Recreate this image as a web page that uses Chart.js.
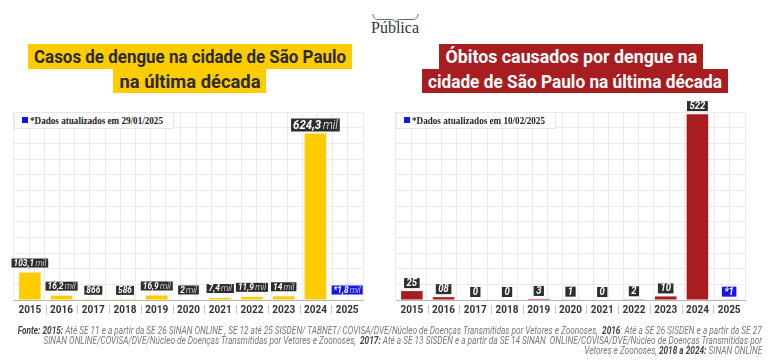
<!DOCTYPE html>
<html lang="pt-BR">
<head>
<meta charset="utf-8">
<script src="https://cdn.jsdelivr.net/npm/chart.js@4.4.1/dist/chart.umd.min.js"></script>
<style>
  html, body { margin: 0; padding: 0; background: #fff; }
  body { width: 768px; height: 363px; position: relative; overflow: hidden; font-family: Roboto, sans-serif; }
  .abs { position: absolute; }
  .grafico { position: absolute; top: 96px; width: 384px; height: 230px; }
  .titulo { position: absolute; display: flex; justify-content: center; align-items: center; font: bold 19px Roboto, sans-serif; white-space: nowrap; }
  .titulo.amarelo { background: #ffcc00; color: #2b2b2b; }
  .titulo.vermelho { background: #a81d20; color: #fff; }
  .fit { display: inline-block; flex-shrink: 0; white-space: nowrap; transform-origin: center center; }
  .legenda { position: absolute; top: 112px; width: 158px; height: 15px; background: #fff; border: 1px solid #e6e6e6; }
  .legenda i { position: absolute; left: 7px; top: 4px; width: 6px; height: 6px; background: #1414ee; }
  .legenda span { position: absolute; left: 15px; top: 0; font: bold 11px 'Liberation Serif', serif; color: #222; line-height: 15px; transform-origin: left center; white-space: nowrap; }
  .fonte { position: absolute; right: 6px; font: italic 10px Roboto, sans-serif; color: #777; line-height: 10px; white-space: nowrap; transform-origin: right center; }
  .fonte b { color: #444; }
</style>
</head>
<body>

<svg class="abs" style="left:372px;top:14px" width="47" height="9">
  <path d="M1 0 C1 4 3 5.5 7 5.5 L19 5.5 C22 5.5 23 6.5 23.5 8.5 C24 6.5 25 5.5 28 5.5 L40 5.5 C44 5.5 46 4 46 0" fill="none" stroke="#555" stroke-width="0.9"/>
</svg>
<div class="abs" style="left:345px;top:19px;width:100px;text-align:center;font:16px 'Liberation Serif',serif;color:#333">Pública</div>

<div class="titulo amarelo" style="left:28px;top:44px;width:324px;height:25px"><span class="fit" data-w="312">Casos de dengue na cidade de São Paulo</span></div>
<div class="titulo amarelo" style="left:113px;top:69px;width:153px;height:24px"><span class="fit" data-w="141">na última década</span></div>

<div class="titulo vermelho" style="left:439px;top:44px;width:264px;height:25px"><span class="fit" data-w="252">Óbitos causados por dengue na</span></div>
<div class="titulo vermelho" style="left:422px;top:69px;width:306px;height:24px"><span class="fit" data-w="294">cidade de São Paulo na última década</span></div>

<div class="grafico" style="left:0"><canvas id="casos" width="384" height="230"></canvas></div>
<div class="grafico" style="left:384px"><canvas id="obitos" width="384" height="230"></canvas></div>

<div class="legenda" style="left:14px"><i></i><span data-w="133">*Dados atualizados em 29/01/2025</span></div>
<div class="legenda" style="left:396px"><i></i><span data-w="133">*Dados atualizados em 10/02/2025</span></div>

<div class="fonte" style="top:326px" id="f1"><b>Fonte: 2015:</b> Até SE 11 e a partir da SE 26 SINAN ONLINE , SE 12 até 25 SISDEN/ TABNET/ COVISA/DVE/Núcleo de Doenças Transmitidas por Vetores e Zoonoses,&nbsp; <b>2016</b>: Até a SE 26 SISDEN e a partir da SE 27</div>
<div class="fonte" style="top:336px" id="f2">SINAN ONLINE/COVISA/DVE/Núcleo de Doenças Transmitidas por Vetores e Zoonoses,&nbsp; <b>2017:</b> Até a SE 13 SISDEN e a partir da SE 14 SINAN&nbsp; ONLINE/COVISA/DVE/Núcleo de Doenças Transmitidas por</div>
<div class="fonte" style="top:346px" id="f3">Vetores e Zoonoses, <b>2018 a 2024:</b> SINAN ONLINE</div>

<script>
const anos = ['2015', '2016', '2017', '2018', '2019', '2020', '2021', '2022', '2023', '2024', '2025']

// casos em milhares
const casosMil = [103.1, 16.2, 0.866, 0.586, 16.9, 2, 7.4, 11.9, 14, 624.3, 1.8]

const obitos = [25, 8, 0, 0, 3, 1, 0, 2, 10, 522, 1]
const obitosRotulos = ['25', '08', '0', '0', '3', '1', '0', '2', '10', '522', '*1']

// ajusta largura dos textos (fonte condensada nao disponivel)
document.querySelectorAll('[data-w]').forEach(el => {
  let w = el.getBoundingClientRect().width
  el.style.transform = 'scaleX(' + (el.dataset.w / w) + ')'
})
let f1 = document.getElementById('f1')
let escalaFonte = 744 / f1.getBoundingClientRect().width
;['f1', 'f2', 'f3'].forEach(id => {
  document.getElementById(id).style.transform = 'scaleX(' + escalaFonte + ')'
})

// tracinhos entre os anos, abaixo do eixo
const separadores = {
  id: 'separadores',
  afterDraw (chart) {
    let ctx = chart.ctx
    let x = chart.scales.x
    let base = chart.chartArea.bottom
    ctx.save()
    ctx.strokeStyle = '#c8c8c8'
    ctx.lineWidth = 1
    for (let i = 1; i < anos.length; i++) {
      let px = Math.round((x.getPixelForTick(i - 1) + x.getPixelForTick(i)) / 2) + 0.5
      ctx.beginPath()
      ctx.moveTo(px, base + 5)
      ctx.lineTo(px, base + 14)
      ctx.stroke()
    }
    ctx.restore()
  }
}

const rotulosBarras = {
  id: 'rotulosBarras',
  afterDatasetsDraw (chart, args, o) {
    let ctx = chart.ctx
    let meta = chart.getDatasetMeta(0)
    let ultimo = meta.data.length - 1

    meta.data.forEach((bar, i) => {
      let [txt, sufixo] = o.texto(i)
      let grande = i === o.grande
      let size = grande ? o.tamGrande : o.tam
      let negrito = `italic bold ${size}px Roboto, sans-serif`
      let leve = `italic 300 ${size}px Roboto, sans-serif`

      ctx.save()
      ctx.font = negrito
      let w1 = ctx.measureText(txt).width
      let w2 = 0
      if (sufixo) {
        ctx.font = leve
        w2 = ctx.measureText(sufixo).width + size * 0.15
      }
      let w = (w1 + w2) * o.escala + o.padX * 2
      let h = Math.round(size * 0.98)
      let left = bar.x - w / 2
      let bottom = bar.y - (grande ? o.folgaGrande : o.folga)

      ctx.fillStyle = i === ultimo ? o.corDestaque : o.corCaixa
      ctx.fillRect(left, bottom - h, w, h)

      ctx.translate(left + o.padX, bottom - h / 2 + 0.5)
      ctx.scale(o.escala, 1)
      ctx.fillStyle = '#fff'
      ctx.textBaseline = 'middle'
      ctx.font = negrito
      ctx.fillText(txt, 0, 0)
      if (sufixo) {
        ctx.font = leve
        ctx.fillText(sufixo, w1 + size * 0.15, 0)
      }
      ctx.restore()
    })
  }
}

let criaGrafico = (id, valores, cor, maxY, passoY, padding, rotulos) => {
  return new Chart(document.getElementById(id), {
    type: 'bar',
    data: {
      labels: anos,
      datasets: [
        {
          data: valores,
          backgroundColor: cor,
          borderWidth: 0,
          barPercentage: 0.68,
          categoryPercentage: 1,
          xAxisID: 'x',
          yAxisID: 'y'
        }
      ]
    },
    plugins: [rotulosBarras, separadores],
    options: {
      responsive: false,
      animation: false,
      layout: { padding: padding },
      plugins: {
        legend: { display: false },
        tooltip: { enabled: false },
        rotulosBarras: rotulos
      },
      scales: {
        x: {
          type: 'category',
          offset: true,
          grid: { drawOnChartArea: false, drawTicks: false },
          border: { color: '#b5b5b5', width: 1 },
          ticks: {
            padding: 4,
            color: '#333',
            autoSkip: false,
            maxRotation: 0,
            font: { family: 'Roboto', size: 10, weight: 'bold' }
          }
        },
        xg: {
          type: 'linear',
          position: 'top',
          min: 0,
          max: 22,
          ticks: { display: false, stepSize: 1 },
          grid: { color: '#ebebeb', drawTicks: false },
          border: { display: false }
        },
        y: {
          min: 0,
          max: maxY,
          ticks: { display: false, stepSize: passoY },
          grid: { color: '#ebebeb', drawTicks: false },
          border: { display: false }
        }
      }
    }
  })
}

criaGrafico('casos', casosMil, '#ffcc00', 705, 58.75,
  { top: 16, bottom: 6, left: 14, right: 21 },
  {
    texto (i) {
      let v = casosMil[i]
      let pre = i === anos.length - 1 ? '*' : ''
      if (v >= 1) return [pre + String(v).replace('.', ','), 'mil']
      return [pre + Math.round(v * 1000), '']
    },
    grande: 9,
    tam: 9.5,
    tamGrande: 13,
    escala: 0.88,
    padX: 2,
    folga: 5,
    folgaGrande: 2,
    corCaixa: '#2e2e2e',
    corDestaque: '#1414ee'
  })

criaGrafico('obitos', obitos, '#a81d20', 528, 44,
  { top: 16, bottom: 6, left: 12, right: 23 },
  {
    texto (i) {
      return [obitosRotulos[i], '']
    },
    grande: -1,
    tam: 10,
    tamGrande: 10,
    escala: 0.95,
    padX: 2.5,
    folga: 3,
    folgaGrande: 3,
    corCaixa: '#2e2e2e',
    corDestaque: '#1414ee'
  })
</script>
</body>
</html>
